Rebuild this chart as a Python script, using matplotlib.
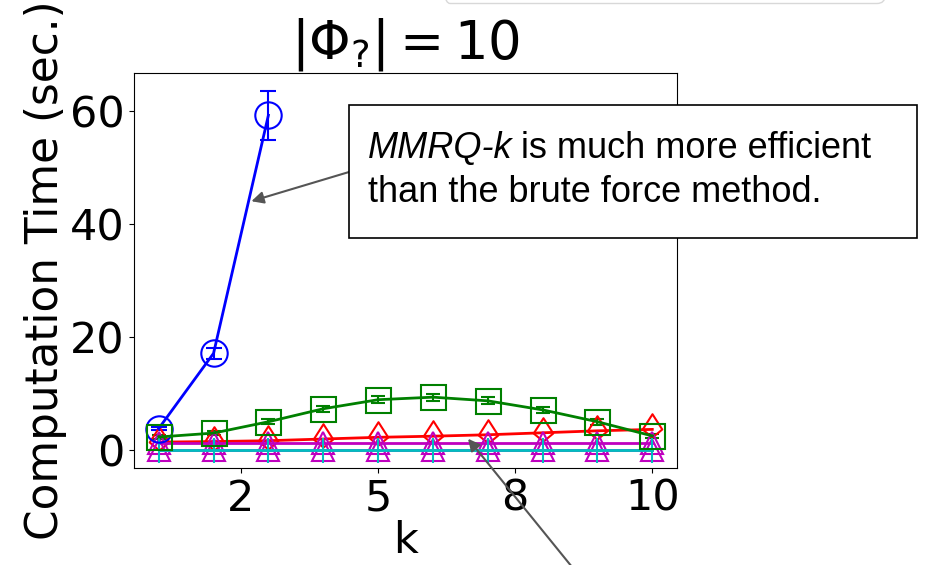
import matplotlib.pyplot as plt
from matplotlib.path import Path
from matplotlib.patches import Rectangle, FancyBboxPatch

# timings per k (seconds)
k = [1, 2, 3, 4, 5, 6, 7, 8, 9, 10]
brute_k = [1, 2, 3]
brute_time = [3.8, 17.1, 59.2]
brute_err = [0.2, 1.0, 4.3]
green_time = [2.3, 3.0, 5.0, 7.3, 8.9, 9.35, 8.7, 7.1, 5.0, 2.5]
green_err = [0.3, 0.3, 0.4, 0.5, 0.6, 0.6, 0.6, 0.5, 0.5, 0.4]
red_time = [1.4, 1.5, 1.65, 1.95, 2.25, 2.45, 2.7, 3.05, 3.4, 3.65]
magenta_time = [1.2, 1.2, 1.2, 1.2, 1.2, 1.2, 1.2, 1.2, 1.2, 1.2]
magenta_low = [0.05, 0.05, 0.05, 0.05, 0.05, 0.05, 0.05, 0.05, 0.05, 0.05]
cyan_time = [0.0, 0.0, 0.0, 0.0, 0.0, 0.0, 0.0, 0.0, 0.0, 0.0]
xtick_pos = [2.5, 5, 7.5, 10]
xtick_labels = ['2', '5', '8', '10']

# kite shaped marker for the red curve
kite = Path([(0, 1), (0.64, 0), (0, -0.53), (-0.64, 0), (0, 1)],
            [Path.MOVETO, Path.LINETO, Path.LINETO, Path.LINETO, Path.CLOSEPOLY])

fig = plt.figure(figsize=(9.32, 5.65), dpi=100)
ax = fig.add_axes([0.1438, 0.1717, 0.5826, 0.6991])

ax.errorbar(brute_k, brute_time, yerr=brute_err, color='b', marker='o', ms=19,
            mfc='none', mew=1.5, lw=2, capsize=6, elinewidth=1.5, capthick=1.5)
ax.errorbar(k, green_time, yerr=green_err, color='g', marker='s', ms=18,
            mfc='none', mew=1.5, lw=2, capsize=5, elinewidth=1.5, capthick=1.5)
ax.plot(k, red_time, color='r', marker=kite, ms=22, mfc='none', mew=1.5, lw=2)
ax.plot(k, magenta_low, color='m', marker='^', ms=16, mfc='none', mew=1.5, lw=2)
ax.plot(k, magenta_time, color='m', marker='^', ms=16, mfc='none', mew=1.5, lw=2)
ax.plot(k, cyan_time, color='c', marker='|', ms=18, mew=1.5, lw=2)

ax.set_xticks(xtick_pos)
ax.set_xticklabels(xtick_labels)
ax.set_yticks([0, 20, 40, 60])
ax.tick_params(labelsize=31)
ax.set_xlabel('k', fontsize=31, labelpad=0)
ax.set_ylabel('Computation Time (sec.)', fontsize=31.5, labelpad=2)
ax.set_title(r'$|\Phi_?| = 10$', fontsize=38)

# callout box
W, H = 932.0, 565.0
fig.add_artist(Rectangle((349 / W, 1 - 238 / H), (917 - 349) / W, (238 - 105) / H,
                         transform=fig.transFigure, facecolor='white',
                         edgecolor='black', lw=1.2, zorder=5))
t1 = fig.text(368 / W, 1 - 158 / H, 'MMRQ-k', style='italic', fontsize=26,
              family='Liberation Sans', va='baseline', zorder=6)
fig.canvas.draw()
bb = t1.get_window_extent()
fig.text((bb.x1 + 8) / W, 1 - 158 / H, 'is much more efficient', fontsize=26,
         family='Liberation Sans', va='baseline', zorder=6)
fig.text(368 / W, 1 - 202 / H, 'than the brute force method.', fontsize=26,
         family='Liberation Sans', va='baseline', zorder=6)

arrow = dict(arrowstyle='-|>', color='#555555', lw=1.5, mutation_scale=18,
             shrinkA=0, shrinkB=0)
ax.annotate('', xy=(2.69, 44.0), xycoords='data',
            xytext=(349 / W, 1 - 172 / H), textcoords='figure fraction',
            arrowprops=arrow, annotation_clip=False, zorder=7)
ax.annotate('', xy=(6.64, 2.0), xycoords='data',
            xytext=(575 / W, -0.01), textcoords='figure fraction',
            arrowprops=arrow, annotation_clip=False, zorder=7)

# faint panel edge along the top
fig.add_artist(FancyBboxPatch((4.42, 5.615), 4.43, 0.5,
                              boxstyle='round,pad=0,rounding_size=0.08',
                              transform=fig.dpi_scale_trans, facecolor='none',
                              edgecolor='#d8d8d8', lw=1))

fig.savefig('out.png', dpi=100)
